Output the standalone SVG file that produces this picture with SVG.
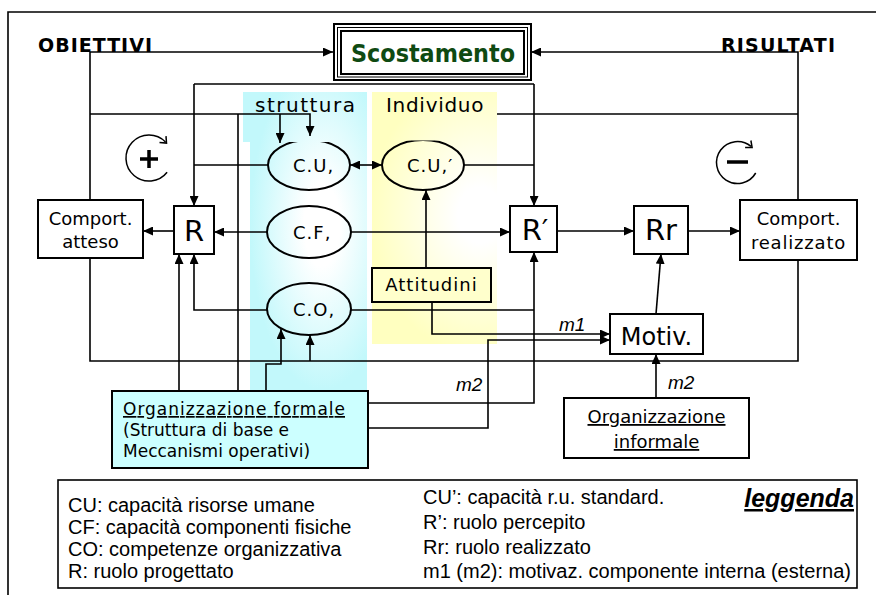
<svg xmlns="http://www.w3.org/2000/svg" width="876" height="595" viewBox="0 0 876 595">
  <defs>
    <style>
      .ln { fill: none; stroke: #000; stroke-width: 1.6; }
      .ar { marker-end: url(#ah); }
      .bx { fill: #fff; stroke: #000; stroke-width: 2; }
      .el { fill: none; stroke: #000; stroke-width: 2; }
      .t { font-family: "DejaVu Sans", Verdana, sans-serif; fill: #000; }
      .n18 { font-size: 18px; }
      .big { font-size: 29px; }
      .a { font-family: "Liberation Sans", Arial, sans-serif; font-size: 20px; fill: #000; }
      .mi { font-family: "Liberation Sans", Arial, sans-serif; font-size: 19px; font-style: italic; fill: #000; }
      .hd { font-family: "DejaVu Sans", Verdana, sans-serif; font-size: 19px; font-weight: bold; fill: #000; }
      .u { text-decoration: underline; }
      .sym { fill: none; stroke: #000; stroke-width: 1.5; }
    </style>
    <marker id="ah" viewBox="0 0 10 9" refX="10" refY="4.5" markerWidth="10" markerHeight="9" markerUnits="userSpaceOnUse" orient="auto-start-reverse">
      <path d="M0,0 L10,4.5 L0,9 z" fill="#000"/>
    </marker>
    <radialGradient id="gc" gradientUnits="userSpaceOnUse" cx="0" cy="0" r="1" gradientTransform="translate(322 225) scale(72 165)">
      <stop offset="0" stop-color="#ffffff"/>
      <stop offset="0.25" stop-color="#ffffff"/>
      <stop offset="1" stop-color="#c2f8fb"/>
    </radialGradient>
    <radialGradient id="gy" gradientUnits="userSpaceOnUse" cx="0" cy="0" r="1" gradientTransform="translate(480 215) scale(110 140)">
      <stop offset="0" stop-color="#ffffff"/>
      <stop offset="0.2" stop-color="#ffffff"/>
      <stop offset="1" stop-color="#ffffc0"/>
    </radialGradient>
  </defs>

  <rect width="876" height="595" fill="#fff"/>

  <!-- outer frame -->
  <path class="ln" d="M8,595 V12 H876"/>

  <!-- background columns: struttura / individuo -->
  <g id="col-struttura">
    <rect x="250" y="92" width="117" height="300" fill="url(#gc)"/>
  </g>
  <g id="col-individuo">
    <rect x="372" y="92" width="125" height="252" fill="url(#gy)"/>
  </g>

  <!-- ellipses -->
  <g id="cu"><ellipse class="el" cx="309" cy="165" rx="41" ry="25"/></g>
  <g id="cf"><ellipse class="el" cx="309" cy="232" rx="42" ry="26"/><text class="t n18" x="293" y="239" letter-spacing="1">C.F,</text></g>
  <g id="co"><ellipse class="el" cx="309" cy="309" rx="42" ry="26"/><text class="t n18" x="293" y="316" letter-spacing="1">C.O,</text></g>
  <g id="cu2"><ellipse class="el" cx="423" cy="165" rx="41" ry="25"/></g>

  <!-- column headings (their boxes overlap the top of the upper ellipses) -->
  <g id="lbl-struttura">
    <rect x="243" y="92" width="124" height="50" fill="url(#gc)"/>
    <text class="t" x="255" y="112" style="font-size:20px" letter-spacing="1.5">struttura</text>
  </g>
  <g id="lbl-individuo">
    <rect x="372" y="92" width="125" height="48.5" fill="url(#gy)"/>
    <text class="t" x="386" y="112" style="font-size:20px" letter-spacing="0.7">Individuo</text>
  </g>
  <text class="t n18" x="293" y="172" letter-spacing="1">C.U,</text>
  <text class="t n18" x="407" y="172" letter-spacing="1">C.U,′</text>

  <!-- connectors -->
  <g id="connectors">
    <path class="ln ar" d="M90,200 V52 H333"/>
    <path class="ln ar" d="M798,200 V52 H531"/>
    <path class="ln ar" d="M90,114 H310 V136"/>
    <path class="ln ar" d="M280,114 V143"/>
    <path class="ln" d="M497,114 H798"/>
    <path class="ln" d="M194,84 H534"/>
    <path class="ln ar" d="M194,84 V206"/>
    <path class="ln ar" d="M534,84 V206"/>
    <path class="ln" d="M268,165 H194"/>
    <path class="ln" d="M464,165 H534"/>
    <path class="ln ar" d="M350,165 H382" marker-start="url(#ah)"/>
    <path class="ln ar" d="M267,232 H214"/>
    <path class="ln ar" d="M174,231 H143"/>
    <path class="ln ar" d="M351,232 H510"/>
    <path class="ln ar" d="M426,268 V190"/>
    <path class="ln ar" d="M557,231 H634"/>
    <path class="ln ar" d="M688,231 H740"/>
    <path class="ln ar" d="M656,314 L661,254"/>
    <path class="ln ar" d="M267,310 H194 V254"/>
    <path class="ln" d="M351,310 H534"/>
    <path class="ln ar" d="M368,403 H534 V252"/>
    <path class="ln" d="M90,258 V361 H798 V260"/>
    <path class="ln ar" d="M310,361 V335"/>
    <path class="ln ar" d="M266,391 V364 H281 V329"/>
    <path class="ln ar" d="M179,391 V254"/>
    <path class="ln" d="M238,391 V114"/>
    <path class="ln ar" d="M368,428 H488 V340 H610"/>
    <path class="ln ar" d="M432,302 V334 H610"/>
    <path class="ln ar" d="M656,398 V354"/>
  </g>

  <!-- headings -->
  <text class="hd" x="38" y="52" textLength="114" lengthAdjust="spacing">OBIETTIVI</text>
  <text class="hd" x="721" y="52" textLength="114" lengthAdjust="spacing">RISULTATI</text>

  <!-- Scostamento -->
  <g id="scostamento">
    <rect x="334" y="24" width="197" height="56" fill="#fff" stroke="#000" stroke-width="2"/>
    <rect x="337.5" y="27.5" width="190" height="49.5" fill="none" stroke="#000" stroke-width="1"/>
    <rect x="341" y="31" width="183" height="43" fill="none" stroke="#000" stroke-width="2"/>
    <text class="t" x="433" y="62" style="font-size:24px;font-weight:bold;fill:#0f4a12" text-anchor="middle" textLength="164" lengthAdjust="spacingAndGlyphs">Scostamento</text>
  </g>

  <!-- feedback symbols -->
  <g id="loop-plus">
    <path class="sym" d="M167.1,172.2 A23,23 0 1 1 165.5,142"/>
    <path class="sym" d="M159.5,142.4 L166.5,143.1 L166,136.1"/>
    <path d="M140,159 H158 M149,150 V168" stroke="#000" stroke-width="3.5" fill="none"/>
  </g>
  <g id="loop-minus">
    <path class="sym" d="M755.7,173 A21,21 0 1 1 751,146.4"/>
    <path class="sym" d="M745.1,147.4 L752.1,147.4 L750.9,140.5"/>
    <path d="M727,162 H748" stroke="#000" stroke-width="3.5" fill="none"/>
  </g>

  <!-- boxes -->
  <g id="comport-atteso">
    <rect class="bx" x="38" y="200" width="105" height="58"/>
    <text class="t n18" x="90.5" y="225" text-anchor="middle">Comport.</text>
    <text class="t n18" x="90.5" y="248" text-anchor="middle">atteso</text>
  </g>
  <g id="r">
    <rect class="bx" x="174" y="206" width="40" height="48"/>
    <text class="t big" x="194" y="241" text-anchor="middle">R</text>
  </g>
  <g id="attitudini">
    <rect x="372" y="268" width="119" height="34" fill="#ffffcc" stroke="#000" stroke-width="2"/>
    <text class="t n18" x="431.5" y="291" text-anchor="middle" letter-spacing="1">Attitudini</text>
  </g>
  <g id="r-perc">
    <rect class="bx" x="510" y="206" width="47" height="46"/>
    <text class="t big" x="535" y="240" text-anchor="middle">R′</text>
  </g>
  <g id="rr">
    <rect class="bx" x="634" y="206" width="54" height="48"/>
    <text class="t big" x="661" y="240" text-anchor="middle">Rr</text>
  </g>
  <g id="comport-realizzato">
    <rect class="bx" x="740" y="200" width="117" height="60"/>
    <text class="t n18" x="798.5" y="225" text-anchor="middle">Comport.</text>
    <text class="t n18" x="798.5" y="249" text-anchor="middle" letter-spacing="0.8">realizzato</text>
  </g>
  <g id="motiv">
    <rect class="bx" x="610" y="314" width="93" height="40"/>
    <text class="t" x="656.5" y="345" style="font-size:24px" text-anchor="middle">Motiv.</text>
  </g>
  <g id="org-formale">
    <rect x="112" y="391" width="256" height="77" fill="#ccffff" stroke="#000" stroke-width="2"/>
    <text class="t u" x="123" y="415" style="font-size:17px" textLength="222" lengthAdjust="spacing">Organizzazione formale</text>
    <text class="t" x="123" y="436" style="font-size:17px">(Struttura di base e</text>
    <text class="t" x="123" y="457" style="font-size:17px">Meccanismi operativi)</text>
  </g>
  <g id="org-informale">
    <rect class="bx" x="564" y="398" width="185" height="60"/>
    <text class="t n18 u" x="656.5" y="423" text-anchor="middle">Organizzazione</text>
    <text class="t n18 u" x="656.5" y="448" text-anchor="middle">informale</text>
  </g>

  <!-- connector labels -->
  <text class="mi" x="559" y="331">m1</text>
  <text class="mi" x="456" y="391">m2</text>
  <text class="mi" x="668" y="389">m2</text>

  <!-- legend -->
  <g id="legenda">
    <rect x="58" y="480" width="799" height="108" fill="#fff" stroke="#000" stroke-width="1.6"/>
    <text class="a" x="68" y="512">CU: capacità risorse umane</text>
    <text class="a" x="68" y="534">CF: capacità componenti fisiche</text>
    <text class="a" x="68" y="556">CO: competenze organizzativa</text>
    <text class="a" x="68" y="578">R: ruolo progettato</text>
    <text class="a" x="423" y="504">CU’: capacità r.u. standard.</text>
    <text class="a" x="423" y="529">R’: ruolo percepito</text>
    <text class="a" x="423" y="554">Rr: ruolo realizzato</text>
    <text class="a" x="423" y="578">m1 (m2): motivaz. componente interna (esterna)</text>
    <text class="a u" x="854" y="507" style="font-size:25px;font-weight:bold;font-style:italic" text-anchor="end">leggenda</text>
  </g>
</svg>
